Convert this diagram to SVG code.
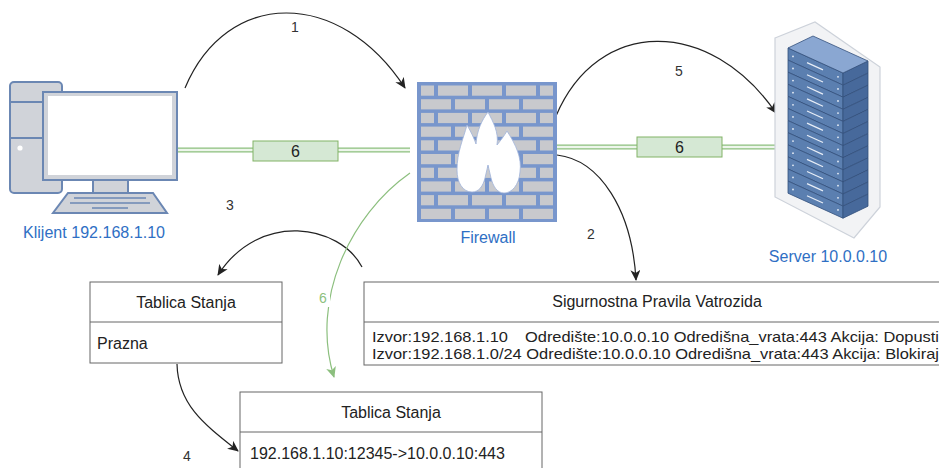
<svg xmlns="http://www.w3.org/2000/svg" xmlns:xlink="http://www.w3.org/1999/xlink" width="939" height="468" viewBox="0 0 939 468">
<style>
text{font-family:"Liberation Sans",Arial,Helvetica,sans-serif}
.blue{fill:#2f6fc4;font-size:16px;text-anchor:middle}
.num{fill:#333;font-size:14px;text-anchor:middle}
.t16{fill:#222;font-size:16px}
.t15{fill:#222;font-size:15px}
.mid{text-anchor:middle}
.tbl{fill:#fff;stroke:#666;stroke-width:1}
.arr{fill:none;stroke:#222;stroke-width:1.2;marker-end:url(#ah)}
.garr{fill:none;stroke:#8cbf7e;stroke-width:1.2;marker-end:url(#gah)}
.linkO{fill:none;stroke:#8cbf7e;stroke-width:5}
.linkI{fill:none;stroke:#eef6ec;stroke-width:2.4}
.gbox{fill:#d5e8d4;stroke:#82b366;stroke-width:1}
.brick{fill:#c8c9cd}
.pc{fill:#d0d3d9;stroke:#6b87b3;stroke-width:2}
</style>
<defs>
<marker id="ah" markerWidth="12" markerHeight="10" refX="10" refY="5" orient="auto" markerUnits="userSpaceOnUse">
<path d="M0,0 L11,5 L0,10 L3,5 Z" fill="#222"/>
</marker>
<marker id="gah" markerWidth="12" markerHeight="10" refX="10" refY="5" orient="auto" markerUnits="userSpaceOnUse">
<path d="M0,0 L11,5 L0,10 L3,5 Z" fill="#8cbf7e"/>
</marker>
<g id="rowA">
<rect class="brick" x="421" y="0" width="13" height="10.2"/>
<rect class="brick" x="438" y="0" width="30" height="10.2"/>
<rect class="brick" x="472" y="0" width="30" height="10.2"/>
<rect class="brick" x="506" y="0" width="30" height="10.2"/>
<rect class="brick" x="540" y="0" width="13" height="10.2"/>
</g>
<g id="rowB">
<rect class="brick" x="421" y="0" width="30" height="10.2"/>
<rect class="brick" x="455" y="0" width="30" height="10.2"/>
<rect class="brick" x="489" y="0" width="30" height="10.2"/>
<rect class="brick" x="523" y="0" width="30" height="10.2"/>
</g>
<g id="unit">
<path d="M0,0 L55,25 L55,37.1 L0,12.1 Z" fill="#5b7fb0" stroke="#34507c" stroke-width="0.8"/>
<path d="M55,25 L80,13 L80,25.1 L55,37.1 Z" fill="#47699b" stroke="#34507c" stroke-width="0.8"/>
<path d="M19,14.6 L35,21.9" stroke="#e8eef7" stroke-width="1.2"/>
<circle cx="5" cy="8.4" r="0.9" fill="#e8eef7"/>
<circle cx="50" cy="28.8" r="0.9" fill="#e8eef7"/>
</g>
</defs>

<rect width="939" height="468" fill="#fff"/>

<g id="connectors">
<path class="linkO" d="M178,150 L410,150"/>
<path class="linkI" d="M178,150 L410,150"/>
<path class="linkO" d="M557,147 L778,147"/>
<path class="linkI" d="M557,147 L778,147"/>
<path class="arr" d="M185,88 C227,-12 340,-12 405,88"/>
<path class="arr" d="M556,116 C598,17 710,17 776,113"/>
<path class="arr" d="M557,155 C600,160 632,210 636,280"/>
<path class="arr" d="M362,267 C340,225 260,210 218,275"/>
<path class="arr" d="M177,364 C178,405 205,425 238,451"/>
<path class="garr" d="M410,173 C350,215 310,300 334,377"/>
<g id="link-label-left">
<rect class="gbox" x="253" y="141" width="85" height="20"/>
<text class="t16 mid" x="295.5" y="157">6</text>
</g>
<g id="link-label-right">
<rect class="gbox" x="637" y="137" width="85" height="20"/>
<text class="t16 mid" x="679.5" y="153">6</text>
</g>
<text class="num" x="295" y="32">1</text>
<text class="num" x="591" y="239">2</text>
<text class="num" x="230" y="210">3</text>
<text class="num" x="187" y="461">4</text>
<text class="num" x="679" y="76">5</text>
<rect x="316" y="289" width="14" height="18" fill="#fff"/>
<text class="num" x="323" y="303" style="fill:#8cbf7e">6</text>
</g>

<g id="client">
<rect class="pc" x="10" y="82" width="52" height="111" rx="4"/>
<line x1="10" y1="102" x2="43" y2="102" stroke="#6b87b3" stroke-width="2"/>
<line x1="10" y1="138" x2="43" y2="138" stroke="#6b87b3" stroke-width="2"/>
<circle cx="20" cy="148" r="2.6" fill="#fff"/>
<rect class="pc" x="43" y="92" width="134" height="88"/>
<rect x="48" y="96" width="124" height="79" fill="#fff"/>
<rect class="pc" x="93" y="180" width="35" height="13"/>
<path class="pc" d="M68,193 L153,193 L167,213 L53,213 Z"/>
<line x1="74" y1="198" x2="146" y2="198" stroke="#6b87b3" stroke-width="1.5"/>
<line x1="70" y1="203" x2="150" y2="203" stroke="#6b87b3" stroke-width="1.5"/>
<line x1="92" y1="208" x2="128" y2="208" stroke="#6b87b3" stroke-width="1.5"/>
<text class="blue" x="94" y="238" textLength="142" lengthAdjust="spacingAndGlyphs">Klijent 192.168.1.10</text>
</g>

<g id="firewall">
<rect x="417" y="82" width="140" height="140" fill="#7896cc"/>
<use xlink:href="#rowA" y="85.5"/>
<use xlink:href="#rowB" y="99.2"/>
<use xlink:href="#rowA" y="112.9"/>
<use xlink:href="#rowB" y="126.6"/>
<use xlink:href="#rowA" y="140.3"/>
<use xlink:href="#rowB" y="154"/>
<use xlink:href="#rowA" y="167.7"/>
<use xlink:href="#rowB" y="181.4"/>
<use xlink:href="#rowA" y="195.1"/>
<use xlink:href="#rowB" y="208.8"/>
<path d="M488,112 C493,122 499,132 497,145 C501,140 504,136 507,131 C516,145 522,158 520,172 C519,185 512,193 504,193 C497,193 493,186 491,178 L488,165 L485,178 C483,186 479,192 472,192 C463,192 457,183 457,170 C457,152 463,140 467,125 C471,132 474,138 476,144 C477,130 482,120 488,112 Z" fill="#fff" stroke="#9fb3d9" stroke-width="0.8"/>
<text class="blue" x="488" y="243">Firewall</text>
</g>

<g id="server">
<path d="M775,38 L815,22 L880,67 L880,207 L854,238 L775,197 Z" fill="#f2f3f5" stroke="#cdd2da" stroke-width="1.2"/>
<use xlink:href="#unit" transform="translate(788,48)"/>
<use xlink:href="#unit" transform="translate(788,60.1)"/>
<use xlink:href="#unit" transform="translate(788,72.2)"/>
<use xlink:href="#unit" transform="translate(788,84.3)"/>
<use xlink:href="#unit" transform="translate(788,96.4)"/>
<use xlink:href="#unit" transform="translate(788,108.5)"/>
<use xlink:href="#unit" transform="translate(788,120.6)"/>
<use xlink:href="#unit" transform="translate(788,132.7)"/>
<use xlink:href="#unit" transform="translate(788,144.8)"/>
<use xlink:href="#unit" transform="translate(788,156.9)"/>
<use xlink:href="#unit" transform="translate(788,169)"/>
<use xlink:href="#unit" transform="translate(788,181.1)"/>
<path d="M788,48 L813,36 L868,61 L843,73 Z" fill="#8aa7d2" stroke="#34507c" stroke-width="0.8"/>
<text class="blue" x="828" y="262">Server 10.0.0.10</text>
</g>

<g id="state-table-empty">
<rect class="tbl" x="90" y="282" width="192" height="81"/>
<line x1="90" y1="322" x2="282" y2="322" stroke="#666"/>
<text class="t16 mid" x="186" y="308">Tablica Stanja</text>
<text class="t16" x="97" y="349">Prazna</text>
</g>

<g id="firewall-rules">
<rect class="tbl" x="364" y="282" width="600" height="83"/>
<line x1="364" y1="322" x2="964" y2="322" stroke="#666"/>
<text class="t16 mid" x="657" y="307">Sigurnostna Pravila Vatrozida</text>
<text class="t15" x="372" y="341.5"><tspan textLength="136" lengthAdjust="spacingAndGlyphs">Izvor:192.168.1.10</tspan><tspan x="525" textLength="414" lengthAdjust="spacingAndGlyphs">Odredište:10.0.0.10 Odredišna_vrata:443 Akcija: Dopusti</tspan></text>
<text class="t15" x="372" y="358.5" textLength="567" lengthAdjust="spacingAndGlyphs">Izvor:192.168.1.0/24 Odredište:10.0.0.10 Odredišna_vrata:443 Akcija: Blokiraj</text>
</g>

<g id="state-table-filled">
<rect class="tbl" x="240" y="392" width="302" height="90"/>
<line x1="240" y1="432" x2="542" y2="432" stroke="#666"/>
<text class="t16 mid" x="391" y="418">Tablica Stanja</text>
<text class="t16" x="250" y="459">192.168.1.10:12345-&gt;10.0.0.10:443</text>
</g>
</svg>
